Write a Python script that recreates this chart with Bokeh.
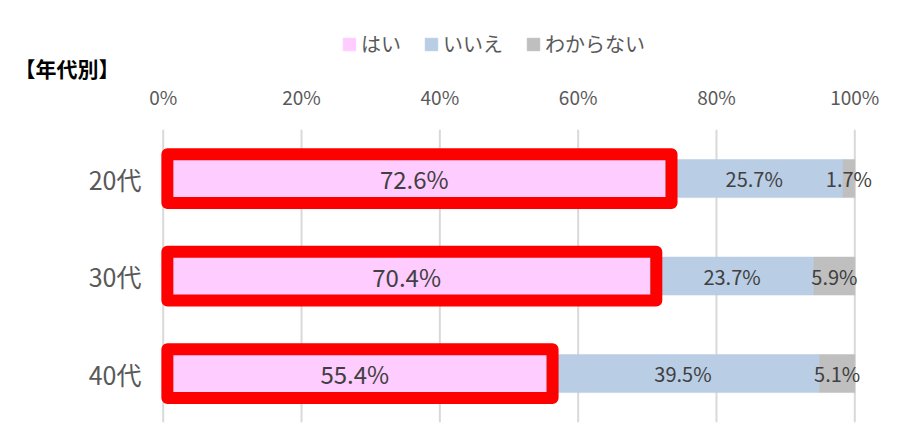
from bokeh.plotting import figure
from bokeh.models import Range1d, Legend, LegendItem, ColumnDataSource
from bokeh.embed import file_html
from bokeh.resources import INLINE
from bokeh.core.properties import value

# ---- data ----
categories = ["20代", "30代", "40代"]
yes_pct = [72.6, 70.4, 55.4]
no_pct = [25.7, 23.7, 39.5]
unknown_pct = [1.7, 5.9, 5.1]
series_names = ["はい", "いいえ", "わからない"]
x_ticks = [0, 20, 40, 60, 80, 100]
x_tick_labels = ["0%", "20%", "40%", "60%", "80%", "100%"]
title_text = "【年代別】"

# ---- styles / layout (pixels) ----
FONT = "Noto Sans CJK JP"
COLORS = ["#FFCCFF", "#B9CDE5", "#BFBFBF"]
HIGHLIGHT = "#FF0000"
GRID = "#D9D9D9"
AXIS_TXT = "#595959"
LABEL_TXT = "#404040"
BAR_H = 0.39
W, H = 902, 427
PLOT_L, PLOT_R = 162.7, 854.3      # 0% and 100%
PLOT_T, PLOT_B = 129.3, 421.8      # top / bottom of category band

n = len(categories)
ypos = [n - i for i in range(n)]  # first category on top

ppx = (PLOT_R - PLOT_L) / (x_ticks[-1] - x_ticks[0])
unit = (PLOT_B - PLOT_T) / n
x_start = x_ticks[0] - PLOT_L / ppx
x_end = x_start + W / ppx
y_end = n + 0.5 + PLOT_T / unit
y_start = y_end - H / unit


def px_x(px):
    return x_start + px / ppx


def px_y(py):
    return y_end - py / unit


seg_left = [[0.0] * n,
            list(yes_pct),
            [a + b for a, b in zip(yes_pct, no_pct)]]
seg_vals = [yes_pct, no_pct, unknown_pct]
seg_right = [[l + v for l, v in zip(seg_left[k], seg_vals[k])] for k in range(3)]

p = figure(width=W, height=H,
           x_range=Range1d(x_start, x_end), y_range=Range1d(y_start, y_end),
           x_axis_type=None, y_axis_type=None,
           output_backend="svg", toolbar_location=None,
           min_border=0)
p.title.visible = False
p.outline_line_color = None
p.background_fill_color = "white"
p.border_fill_color = "white"

# vertical gridlines
p.segment(x0=x_ticks, x1=x_ticks, y0=[0.5] * len(x_ticks), y1=[n + 0.5] * len(x_ticks),
          line_color=GRID, line_width=2)

# stacked bars
renderers = []
for k in range(3):
    src = ColumnDataSource(dict(y=ypos, left=seg_left[k], right=seg_right[k]))
    r = p.hbar(y="y", left="left", right="right", height=BAR_H, source=src,
               fill_color=COLORS[k], line_color=COLORS[k], line_width=0.5)
    renderers.append(r)

# red highlight frames around the "はい" bars
frame_src = ColumnDataSource(dict(
    left=[0.6] * n,
    right=[v + 0.9 for v in yes_pct],
    bottom=[y - 0.25 for y in ypos],
    top=[y + 0.25 for y in ypos],
))
p.quad(left="left", right="right", bottom="bottom", top="top", source=frame_src,
       fill_alpha=0, line_color=HIGHLIGHT, line_width=12, line_join="round")

# data labels
for k in range(3):
    src = ColumnDataSource(dict(
        x=[(l + r) / 2 for l, r in zip(seg_left[k], seg_right[k])],
        y=ypos,
        t=[f"{v:.1f}%" for v in seg_vals[k]],
    ))
    p.text(x="x", y="y", text="t", source=src,
           text_align="center", text_baseline="middle",
           text_font=value(FONT),
           text_font_size="24px" if k == 0 else "20px",
           text_color=LABEL_TXT)

# x tick labels (top)
p.text(x=x_ticks, y=[px_y(96)] * len(x_ticks), text=x_tick_labels,
       text_align="center", text_baseline="middle",
       text_font=value(FONT), text_font_size="19px", text_color=AXIS_TXT)

# category labels (left)
p.text(x=[px_x(141)] * n, y=ypos, text=categories,
       text_align="right", text_baseline="middle",
       text_font=value(FONT), text_font_size="25px", text_color=AXIS_TXT)

# title
p.text(x=[px_x(14)], y=[px_y(67)], text=[title_text],
       text_align="left", text_baseline="middle",
       text_font=value(FONT), text_font_size="21px", text_font_style="bold",
       text_color="black")

# legend
legend = Legend(
    items=[LegendItem(label=value(nm), renderers=[r]) for nm, r in zip(series_names, renderers)],
    orientation="horizontal", location=(341, H - 58),
    padding=0, margin=0, spacing=22, label_standoff=4,
    glyph_width=16, glyph_height=16,
    border_line_alpha=0, background_fill_alpha=0,
    label_text_font=FONT, label_text_font_size="20px", label_text_color=AXIS_TXT,
)
p.add_layout(legend)

open("out.html", "w").write(file_html(p, INLINE))
